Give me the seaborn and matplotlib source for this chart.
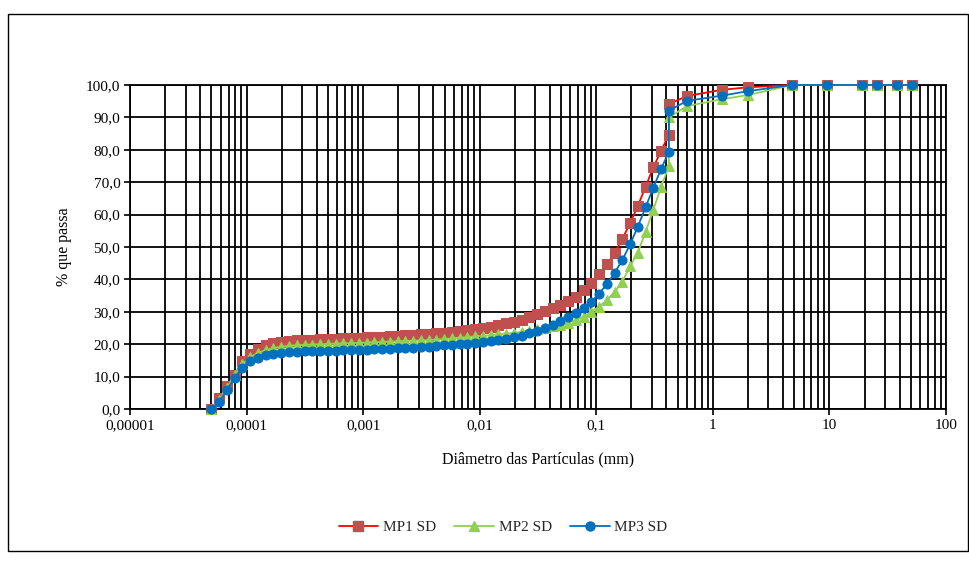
import matplotlib
matplotlib.use("Agg")
import matplotlib.pyplot as plt
import matplotlib.ticker as mticker
from matplotlib.patches import Rectangle
from matplotlib.lines import Line2D
import seaborn as sns
import pandas as pd

# particle diameters (mm): laser diffraction points followed by sieve points
diam_laser = [5.00e-5, 5.83e-5, 6.79e-5, 7.91e-5, 9.22e-5, 1.075e-4, 1.253e-4, 1.460e-4, 1.702e-4, 1.984e-4,
              2.312e-4, 2.695e-4, 3.141e-4, 3.661e-4, 4.266e-4, 4.972e-4, 5.794e-4, 6.753e-4, 7.870e-4, 9.173e-4,
              1.069e-3, 1.246e-3, 1.452e-3, 1.692e-3, 1.972e-3, 2.298e-3, 2.679e-3, 3.122e-3, 3.639e-3, 4.241e-3,
              4.943e-3, 5.760e-3, 6.714e-3, 7.825e-3, 9.120e-3, 1.063e-2, 1.239e-2, 1.444e-2, 1.683e-2, 1.961e-2,
              2.286e-2, 2.664e-2, 3.105e-2, 3.619e-2, 4.217e-2, 4.915e-2, 5.728e-2, 6.676e-2, 7.780e-2, 9.068e-2,
              0.1057, 0.1232, 0.1436, 0.1673, 0.1950, 0.2273, 0.2649, 0.3087, 0.3597, 0.4194]
diam_sieve = [0.42, 0.6, 1.19, 2.0, 4.76, 9.5, 19.1, 25.4, 38.1, 50.8]

mp1 = [0, 3.3, 7.0, 10.5, 14.8, 17.0, 18.6, 19.7, 20.4, 20.8,
       21.0, 21.2, 21.3, 21.4, 21.5, 21.6, 21.7, 21.8, 21.9, 22.0,
       22.1, 22.2, 22.3, 22.4, 22.6, 22.7, 22.9, 23.0, 23.2, 23.4,
       23.6, 23.8, 24.0, 24.3, 24.6, 24.9, 25.4, 25.8, 26.4, 26.9,
       27.5, 28.3, 29.2, 30.1, 31.1, 32.1, 33.4, 34.7, 36.7, 39.0,
       41.7, 44.6, 48.1, 52.5, 57.3, 62.7, 68.6, 74.6, 79.7, 84.6,
       94.1, 96.6, 98.5, 99.3, 100, 100, 100, 100, 100, 100]
mp2 = [0, 2.8, 6.5, 10.5, 13.8, 16.0, 17.3, 18.2, 18.8, 19.2,
       19.5, 19.7, 19.8, 19.9, 20.0, 20.1, 20.2, 20.3, 20.3, 20.4,
       20.5, 20.6, 20.7, 20.8, 20.9, 21.0, 21.1, 21.2, 21.3, 21.4,
       21.6, 21.8, 22.0, 22.2, 22.4, 22.6, 22.8, 23.1, 23.3, 23.5,
       23.8, 24.2, 24.6, 25.0, 25.5, 26.0, 26.6, 27.4, 28.5, 30.0,
       31.6, 33.6, 36.2, 39.3, 44.0, 48.3, 54.7, 61.5, 68.5, 75.0,
       90.0, 93.5, 95.6, 96.9, 100, 100, 100, 100, 100, 100]
mp3 = [0, 2.3, 5.9, 9.7, 12.7, 14.8, 15.8, 16.6, 17.1, 17.4,
       17.6, 17.7, 17.8, 17.9, 17.9, 18.0, 18.0, 18.1, 18.2, 18.2,
       18.3, 18.4, 18.5, 18.6, 18.7, 18.8, 18.9, 19.0, 19.2, 19.4,
       19.6, 19.8, 20.0, 20.2, 20.4, 20.6, 21.0, 21.3, 21.6, 22.1,
       22.6, 23.4, 24.2, 25.1, 26.0, 27.1, 28.4, 29.7, 31.3, 33.1,
       35.6, 38.5, 42.0, 46.0, 50.8, 56.3, 62.3, 68.3, 74.1, 79.4,
       92.1, 95.1, 96.7, 98.1, 100, 100, 100, 100, 100, 100]

series_names = ["MP1 SD", "MP2 SD", "MP3 SD"]
x_tick_vals = [1e-5, 1e-4, 1e-3, 1e-2, 1e-1, 1, 10, 100]
x_tick_labels = ["0,00001", "0,0001", "0,001", "0,01", "0,1", "1", "10", "100"]
y_tick_vals = [0, 10, 20, 30, 40, 50, 60, 70, 80, 90, 100]
y_tick_labels = ["0,0", "10,0", "20,0", "30,0", "40,0", "50,0", "60,0", "70,0", "80,0", "90,0", "100,0"]

sns.set_theme(style="white")
plt.rcParams["font.family"] = ["Liberation Serif", "DejaVu Serif"]

fig = plt.figure(figsize=(9.7, 5.61), dpi=100)
ax = fig.add_axes([130 / 970, 1 - 409 / 561, (946 - 130) / 970, (409 - 85) / 561])

diam = diam_laser + diam_sieve
styles = [
    dict(color="#FF0000", marker="s", mfc="#C0504D", mec="#C0504D", ms=7),
    dict(color="#92D050", marker="^", mfc="#92D050", mec="#92D050", ms=7.5),
    dict(color="#0070C0", marker="o", mfc="#0070C0", mec="#0070C0", ms=6.5),
]
handles = []
for name, vals, st in zip(series_names, [mp1, mp2, mp3], styles):
    df = pd.DataFrame({"d": diam, "p": vals})
    sns.lineplot(data=df, x="d", y="p", ax=ax, estimator=None, sort=False,
                 color=st["color"], marker=st["marker"], markerfacecolor=st["mfc"],
                 markeredgecolor=st["mec"], markersize=st["ms"], linewidth=1.3, zorder=3,
                 clip_on=False)
    handles.append(Line2D([], [], color=st["color"], marker=st["marker"], markerfacecolor=st["mfc"],
                          markeredgecolor=st["mec"], markersize=st["ms"], linewidth=1.3, label=name))

ax.set_xscale("log")
ax.set_xlim(1e-5, 100)
ax.set_ylim(0, 100)
ax.xaxis.set_major_locator(mticker.FixedLocator(x_tick_vals))
ax.xaxis.set_major_formatter(mticker.FixedFormatter(x_tick_labels))
ax.xaxis.set_minor_locator(mticker.LogLocator(base=10, subs=[2, 3, 4, 5, 6, 7, 8, 9], numticks=20))
ax.xaxis.set_minor_formatter(mticker.NullFormatter())
ax.yaxis.set_major_locator(mticker.FixedLocator(y_tick_vals))
ax.yaxis.set_major_formatter(mticker.FixedFormatter(y_tick_labels))

ax.grid(which="major", axis="both", color="black", linewidth=1.3)
ax.grid(which="minor", axis="x", color="black", linewidth=1.3)
ax.tick_params(axis="both", which="major", direction="out", length=4, width=1.2, color="black",
               labelsize=11, labelcolor="black", bottom=True, left=True, pad=3)
ax.tick_params(axis="x", which="minor", length=0)
for sp in ax.spines.values():
    sp.set_color("black")
    sp.set_linewidth(1.3)

ax.set_xlabel("Diâmetro das Partículas (mm)", fontsize=11.5, color="black", labelpad=14)
ax.set_ylabel("% que passa", fontsize=11.5, color="black", labelpad=10)

fig.legend(handles=handles, loc="center", bbox_to_anchor=(503 / 970, 1 - 527 / 561), ncol=3,
           frameon=False, fontsize=11, handlelength=2.6, columnspacing=1.2, handletextpad=0.3)

fig.patches.append(Rectangle((8 / 970, 1 - 551 / 561), (968 - 8) / 970, (551 - 14) / 561,
                             transform=fig.transFigure, fill=False, edgecolor="black", linewidth=1.0))

fig.savefig("out.png", dpi=100, facecolor="white")
